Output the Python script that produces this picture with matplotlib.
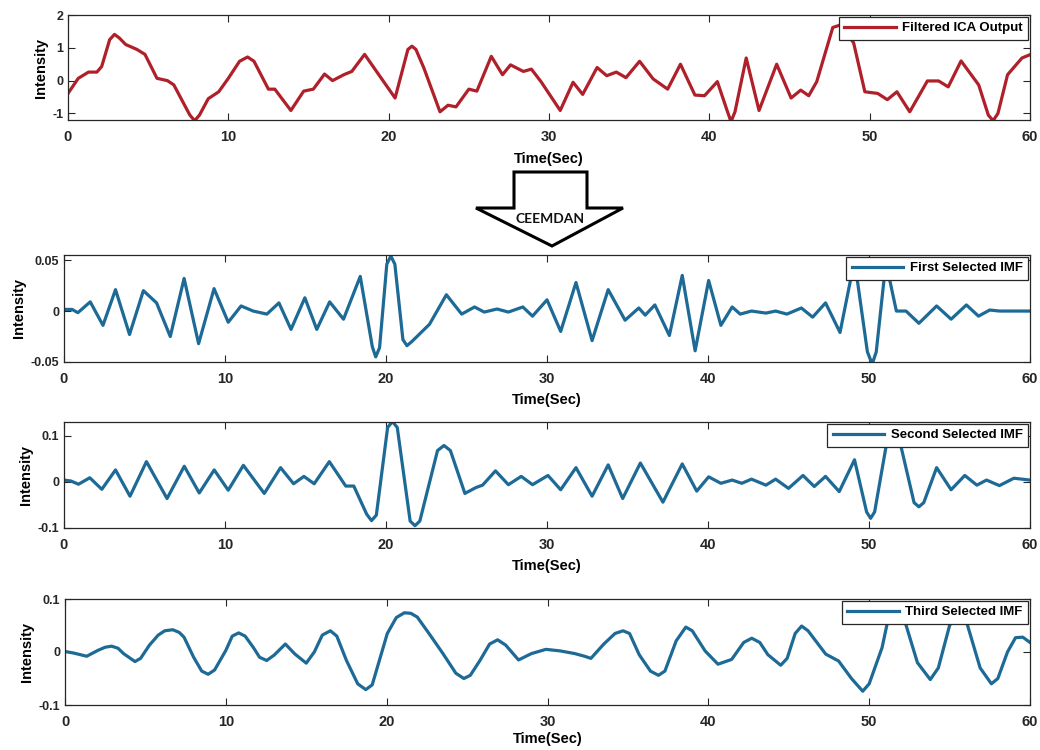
"""
plot.py - sinyal ICA terfilter dan tiga IMF hasil CEEMDAN.
Simpan ke out.png (1040x750).
"""
import matplotlib
matplotlib.use("Agg")
import matplotlib.pyplot as plt
from matplotlib.patches import Polygon

RED = "#B0202A"
BLUE = "#1D6A96"
INK = "#262626"
plt.rcParams.update({"font.family": ["Liberation Sans", "DejaVu Sans"],
                     "font.weight": "bold", "font.size": 9})

# ── data ──────────────────────────────────────────────────────────────────────
red_t = [0, 0.64, 1.28, 1.8, 2.1, 2.6, 2.9, 3.2, 3.6, 4.3, 4.8, 5.55, 6.2, 6.6, 7.6, 7.9,
         8.2, 8.75, 9.4, 10.0, 10.7, 11.2, 11.6, 12.5, 12.9, 13.9, 14.7, 15.3, 16.0, 16.5,
         17.2, 17.7, 18.5, 20.4, 21.2, 21.45, 21.7, 22.2, 23.2, 23.7, 24.2, 25.0, 25.5,
         26.4, 27.1, 27.6, 28.4, 28.9, 29.5, 30.7, 31.5, 32.1, 33.0, 33.6, 34.2, 34.8,
         35.65, 36.5, 37.4, 38.2, 39.1, 39.7, 40.5, 41.1, 41.35, 41.6, 42.3, 43.1, 44.2,
         45.1, 45.7, 46.2, 46.7, 47.7, 48.2, 49.0, 49.7, 50.5, 51.1, 51.7, 52.5, 53.6,
         54.3, 54.9, 55.7, 56.8, 57.4, 57.7, 58.0, 58.6, 59.5, 60]
red_y = [-0.39, 0.07, 0.26, 0.26, 0.43, 1.25, 1.41, 1.3, 1.1, 0.95, 0.8, 0.07, 0.0, -0.13,
         -1.05, -1.22, -1.05, -0.55, -0.34, 0.07, 0.59, 0.72, 0.59, -0.26, -0.26, -0.91,
         -0.32, -0.26, 0.2, 0.0, 0.18, 0.28, 0.8, -0.53, 0.95, 1.05, 0.95, 0.38, -0.95,
         -0.75, -0.8, -0.26, -0.32, 0.74, 0.18, 0.48, 0.28, 0.35, -0.03, -0.91, -0.05,
         -0.42, 0.4, 0.15, 0.26, 0.09, 0.59, 0.05, -0.26, 0.5, -0.44, -0.46, -0.03, -0.9,
         -1.25, -0.95, 0.69, -0.91, 0.5, -0.53, -0.29, -0.46, -0.03, 1.62, 1.7, 1.15,
         -0.34, -0.39, -0.58, -0.34, -0.95, -0.01, -0.01, -0.19, 0.6, -0.13, -1.05, -1.22,
         -1.0, 0.18, 0.69, 0.79]

imf1_t = [0, 0.5, 0.86, 1.63, 2.42, 3.2, 4.07, 4.93, 5.75, 6.6, 7.46, 8.36, 9.32, 10.2,
          11.0, 11.75, 12.6, 13.35, 14.1, 14.96, 15.7, 16.5, 17.36, 18.4, 19.15, 19.36,
          19.6, 20.05, 20.3, 20.55, 21.05, 21.3, 21.6, 22.7, 23.75, 24.7, 25.5, 26.1,
          26.9, 27.6, 28.5, 29.1, 30.0, 30.85, 31.8, 32.8, 33.8, 34.85, 35.7, 36.1, 36.7,
          37.6, 38.4, 39.2, 40.04, 40.8, 41.5, 42.0, 42.7, 43.6, 44.2, 44.9, 45.8, 46.5,
          47.3, 48.2, 49.1, 49.9, 50.2, 50.45, 51.05, 51.7, 52.3, 53.1, 54.2, 55.1, 56.05,
          56.8, 57.5, 58.1, 60]
imf1_y = [0.0016, 0.0016, -0.0016, 0.009, -0.014, 0.021, -0.023, 0.020, 0.008, -0.025,
          0.032, -0.032, 0.022, -0.011, 0.005, 0.0, -0.003, 0.008, -0.018, 0.013, -0.018,
          0.009, -0.008, 0.034, -0.035, -0.045, -0.036, 0.046, 0.054, 0.046, -0.028,
          -0.034, -0.030, -0.013, 0.016, -0.003, 0.004, -0.001, 0.002, -0.001, 0.004,
          -0.005, 0.011, -0.02, 0.028, -0.029, 0.021, -0.009, 0.003, -0.004, 0.006,
          -0.024, 0.035, -0.039, 0.030, -0.014, 0.004, -0.003, 0.0, -0.002, 0.0, -0.003,
          0.003, -0.006, 0.008, -0.021, 0.05, -0.04, -0.052, -0.04, 0.048, 0.0, 0.0,
          -0.012, 0.005, -0.008, 0.006, -0.005, 0.001, 0.0, 0.0]

imf2_t = [0, 0.43, 0.9, 1.6, 2.35, 3.2, 4.1, 5.12, 6.4, 7.47, 8.4, 9.33, 10.2, 11.14,
          12.44, 13.45, 14.26, 14.9, 15.54, 16.48, 17.5, 18.0, 18.8, 19.1, 19.4, 20.1,
          20.4, 20.7, 21.5, 21.8, 22.1, 23.2, 23.6, 24.0, 24.9, 25.6, 26.0, 26.8, 27.6,
          28.4, 29.1, 30.06, 30.85, 31.8, 32.8, 33.8, 34.7, 35.8, 37.2, 38.4, 39.3, 40.04,
          40.8, 41.5, 42.1, 42.7, 43.6, 44.2, 45.0, 45.9, 46.6, 47.3, 48.15, 49.1, 49.85,
          50.1, 50.35, 51.2, 51.5, 51.8, 52.8, 53.1, 53.4, 54.2, 55.1, 55.95, 56.7, 57.3,
          58.1, 59.0, 60]
imf2_y = [0.004, 0.002, -0.005, 0.009, -0.016, 0.026, -0.031, 0.044, -0.036, 0.034,
          -0.024, 0.026, -0.018, 0.036, -0.025, 0.031, -0.004, 0.012, -0.004, 0.044,
          -0.009, -0.009, -0.07, -0.084, -0.072, 0.118, 0.131, 0.118, -0.085, -0.095,
          -0.085, 0.068, 0.079, 0.068, -0.025, -0.012, -0.007, 0.024, -0.006, 0.012,
          -0.006, 0.014, -0.017, 0.031, -0.031, 0.037, -0.036, 0.041, -0.044, 0.039,
          -0.02, 0.011, -0.003, 0.004, -0.003, 0.006, -0.007, 0.006, -0.014, 0.014, -0.01,
          0.012, -0.021, 0.048, -0.065, -0.079, -0.065, 0.105, 0.115, 0.105, -0.045,
          -0.054, -0.045, 0.031, -0.017, 0.014, -0.007, 0.004, -0.008, 0.008, 0.004]

imf3_t = [0, 0.54, 1.35, 2.04, 2.5, 2.9, 3.3, 3.64, 4.35, 4.7, 5.25, 5.8, 6.2, 6.7, 7.1,
          7.4, 8.0, 8.5, 8.9, 9.3, 10.0, 10.4, 10.8, 11.2, 11.7, 12.1, 12.54, 13.0, 13.7,
          14.3, 15.0, 15.5, 16.0, 16.5, 16.9, 17.5, 18.2, 18.7, 19.1, 20.04, 20.6, 21.1,
          21.5, 21.9, 22.7, 23.5, 24.3, 24.8, 25.2, 25.8, 26.4, 26.9, 27.4, 28.2, 29.0,
          29.9, 30.8, 31.7, 32.3, 32.7, 33.5, 34.2, 34.7, 35.1, 35.7, 36.4, 36.9, 37.3,
          38.0, 38.6, 39.0, 39.8, 40.6, 41.45, 42.2, 42.7, 43.2, 43.7, 44.5, 44.9, 45.4,
          45.8, 46.2, 47.3, 48.1, 48.9, 49.6, 50.0, 50.8, 51.2, 51.7, 52.2, 53.0, 53.8,
          54.3, 55.0, 55.6, 56.1, 56.9, 57.6, 58.0, 58.6, 59.1, 59.55, 60]
imf3_y = [0.001, -0.002, -0.008, 0.003, 0.009, 0.011, 0.007, -0.003, -0.018, -0.012,
          0.013, 0.032, 0.040, 0.042, 0.037, 0.028, -0.01, -0.036, -0.042, -0.034, 0.003,
          0.030, 0.036, 0.030, 0.009, -0.01, -0.016, -0.006, 0.015, -0.004, -0.021, 0.0,
          0.032, 0.040, 0.030, -0.016, -0.060, -0.071, -0.062, 0.035, 0.065, 0.074, 0.073,
          0.066, 0.032, -0.003, -0.040, -0.050, -0.044, -0.016, 0.015, 0.023, 0.013,
          -0.015, -0.003, 0.005, 0.002, -0.003, -0.008, -0.012, 0.015, 0.035, 0.040,
          0.035, -0.005, -0.036, -0.044, -0.036, 0.021, 0.047, 0.040, 0.002, -0.023,
          -0.014, 0.018, 0.026, 0.018, -0.005, -0.025, -0.012, 0.035, 0.049, 0.040,
          -0.004, -0.017, -0.050, -0.074, -0.060, 0.008, 0.065, 0.082, 0.060, -0.020,
          -0.052, -0.030, 0.050, 0.078, 0.052, -0.030, -0.060, -0.050, 0.000, 0.027,
          0.028, 0.018]

labels = ["Filtered ICA Output", "First Selected IMF", "Second Selected IMF",
          "Third Selected IMF"]
yticks = [[-1, 0, 1, 2], [-0.05, 0, 0.05], [-0.1, 0, 0.1], [-0.1, 0, 0.1]]
ylims = [(-1.2, 2), (-0.05, 0.055), (-0.1, 0.13), (-0.1, 0.1)]
xticks = [0, 10, 20, 30, 40, 50, 60]

# posisi panel dalam piksel (kiri, atas, kanan, bawah) + jarak label sumbu-x
W, H = 1040, 750
boxes = [(68, 15, 1030, 120), (64, 255, 1030, 362), (64, 422, 1030, 528),
         (65, 599, 1030, 705)]
xpads = [6, 5.5, 5.5, 2.5]
series = [(red_t, red_y, RED), (imf1_t, imf1_y, BLUE), (imf2_t, imf2_y, BLUE),
          (imf3_t, imf3_y, BLUE)]

fig = plt.figure(figsize=(W / 100, H / 100), dpi=100)

for (l, t, r, b), (xs, ys, col), lab, yt, yl, lp in zip(boxes, series, labels, yticks,
                                                         ylims, xpads):
    ax = fig.add_axes([l / W, 1 - b / H, (r - l) / W, (b - t) / H])
    ax.plot(xs, ys, color=col, lw=2.3, label=lab, solid_joinstyle="round")
    ax.set_xlim(0, 60); ax.set_ylim(*yl)
    ax.set_xticks(xticks); ax.set_yticks(yt)
    ax.set_yticklabels([f"{v:g}" for v in yt])
    ax.tick_params(direction="in", length=5, width=0.8, top=True, right=True,
                   colors=INK, labelsize=9)
    ax.tick_params(axis="x", pad=7, labelsize=10.5)
    for s in ax.spines.values():
        s.set_color(INK); s.set_linewidth(0.9)
    ax.set_xlabel("Time(Sec)", fontsize=10.5, fontweight="bold", labelpad=lp)
    ax.set_ylabel("Intensity", fontsize=10.5, fontweight="bold", labelpad=3)
    leg = ax.legend(loc="upper right", frameon=True, fancybox=False,
                    handlelength=3.9, handletextpad=0.5, borderpad=0.4,
                    borderaxespad=0.15, prop={"weight": "bold", "size": 9.5})
    leg.get_frame().set_edgecolor(INK); leg.get_frame().set_linewidth(0.9)
    leg.get_frame().set_alpha(1)

# ── panah CEEMDAN ─────────────────────────────────────────────────────────────
ov = fig.add_axes([0, 0, 1, 1], facecolor="none")
ov.set_xlim(0, W); ov.set_ylim(H, 0); ov.axis("off")
arrow = [(514, 172), (587, 172), (587, 208), (623, 208), (552, 246), (476, 208), (514, 208)]
ov.add_patch(Polygon(arrow, closed=True, facecolor="white", edgecolor="black", lw=2.2))
ov.text(550, 219, "CEEMDAN", ha="center", va="center", fontsize=10,
        fontweight="bold", family=["Lato", "DejaVu Sans"], color="#111111")

fig.savefig("out.png", dpi=100)
